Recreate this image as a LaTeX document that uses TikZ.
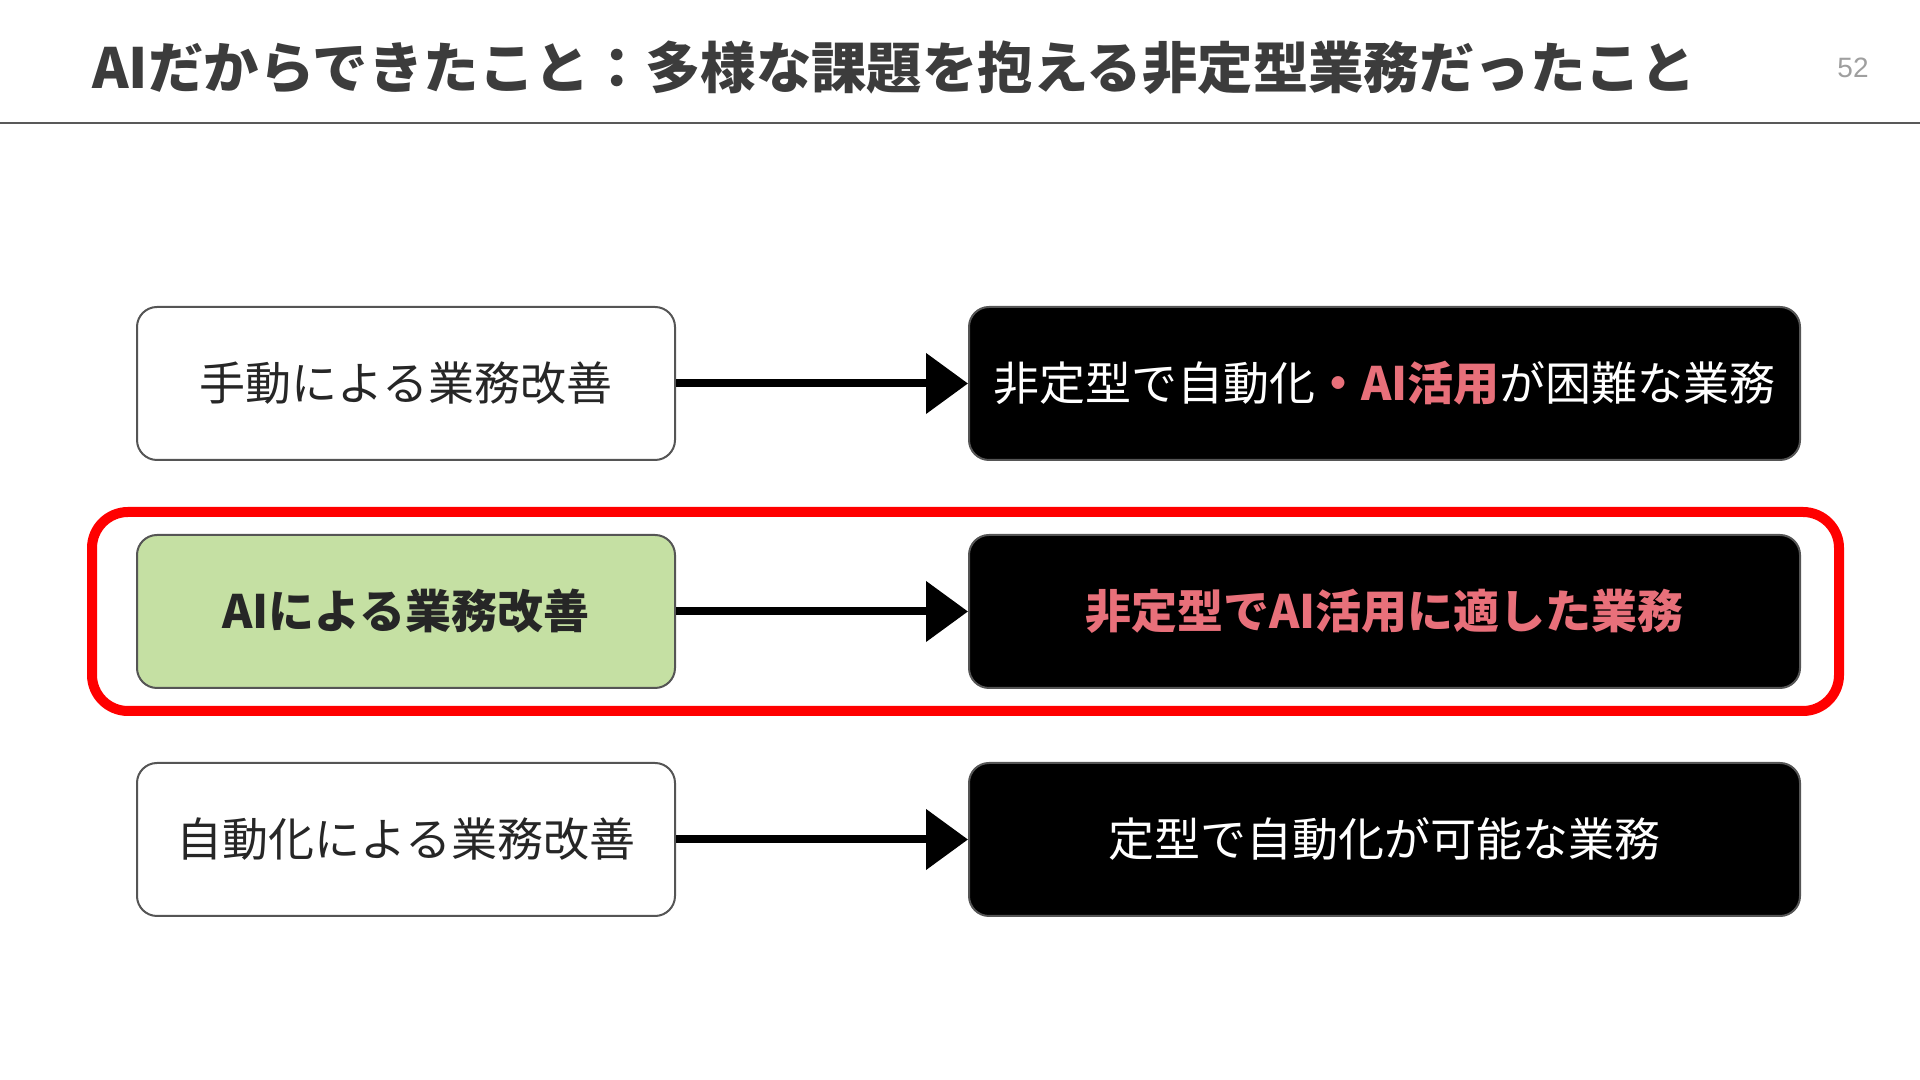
\documentclass[tikz,border=0pt]{standalone}
\usepackage{fontspec}
\setmainfont{Noto Sans CJK JP}
\newfontfamily\numfont{Liberation Sans}
\usetikzlibrary{arrows.meta, positioning, fit}
\definecolor{boxline}{HTML}{555555}
\definecolor{aigreen}{HTML}{C5E0A3}
\definecolor{aipink}{HTML}{E8707A}
\definecolor{titlegray}{HTML}{3C3C3C}
\tikzstyle{task} = [rectangle, rounded corners=10pt, minimum width=269pt, minimum height=76.5pt, text centered, draw=boxline, line width=1pt, fill=white, text=black!85, font=\fontsize{23}{28}\selectfont]
\tikzstyle{kind} = [rectangle, rounded corners=10pt, minimum width=415.5pt, minimum height=76.5pt, text centered, draw=boxline, line width=1pt, fill=black, text=white, font=\fontsize{23}{28}\selectfont]
\tikzstyle{arrow} = [line width=4pt, -{Triangle[length=21pt,width=29.5pt]}]

\begin{document}
\begin{tikzpicture}[x=1pt, y=1pt]
\useasboundingbox (0,0) rectangle (960,540);

% Title
\node (title) [anchor=west, inner sep=0, text=titlegray, font=\fontsize{27.7}{30}\selectfont\bfseries] at (46,506) {AIだからできたこと：多様な課題を抱える非定型業務だったこと};
\node (page) [text=gray!75, font=\numfont\fontsize{14}{14}\selectfont] at (926.5,506) {52};
\coordinate (ruleL) at (0,478.5);
\coordinate (ruleR) at (960,478.5);
\draw [gray!70!black, line width=1pt] (ruleL) -- (ruleR);

% Approaches
\node (manual) [task] at (203,348.25) {手動による業務改善};
\node (ai) [task, fill=aigreen, font=\fontsize{23}{28}\selectfont\bfseries, below=36.5pt of manual] {AIによる業務改善};
\node (auto) [task, below=36.5pt of ai] {自動化による業務改善};

% Target tasks
\node (hard) [kind, right=146pt of manual] {非定型で自動化{\bfseries\color{aipink}・AI活用}が困難な業務};
\node (suited) [kind, text=aipink, font=\fontsize{23}{28}\selectfont\bfseries, right=146pt of ai] {非定型でAI活用に適した業務};
\node (routine) [kind, right=146pt of auto] {定型で自動化が可能な業務};

% Highlight
\node (focus) [fit=(ai)(suited), draw=red, line width=5pt, rounded corners=18pt, inner xsep=20.5pt, inner ysep=11pt, xshift=-1.5pt] {};

% Arrows
\draw [arrow] (manual) -- (hard);
\draw [arrow] (ai) -- (suited);
\draw [arrow] (auto) -- (routine);

\end{tikzpicture}
\end{document}
